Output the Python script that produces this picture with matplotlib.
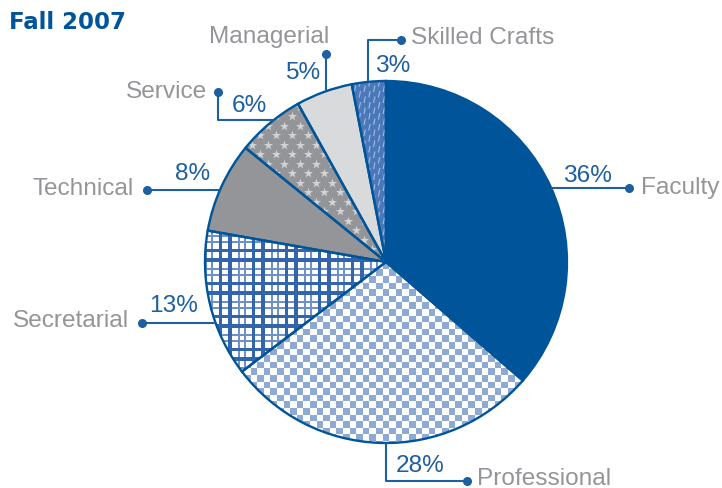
import numpy as np
import matplotlib
matplotlib.use("Agg")
import matplotlib.pyplot as plt
from matplotlib.collections import LineCollection

# ---- data ----
categories = ["Faculty", "Professional", "Secretarial", "Technical", "Service", "Managerial", "Skilled Crafts"]
values = [36, 28, 13, 8, 6, 5, 3]
pct_labels = ["36%", "28%", "13%", "8%", "6%", "5%", "3%"]
title = "Fall 2007"

# ---- style ----
W, H = 722, 489
CX, CY, R = 386, 263, 181
DARK = "#00559A"
PCT = "#1D5FA0"
GRAY_TXT = "#939598"
face = ["#00559A", "#FFFFFF", "#FFFFFF", "#939598", "#939598", "#D9DADC", "#4A78B8"]

fig = plt.figure(figsize=(W / 100, H / 100), dpi=100)
ax = fig.add_axes([0, 0, 1, 1])

wedges, _ = ax.pie(values, colors=face, startangle=270, counterclock=True,
                   center=(CX, CY), radius=R,
                   wedgeprops=dict(edgecolor="none", linewidth=0, zorder=1))

# ---- textures (clipped to wedges) ----
S = 2
yy, xx = np.mgrid[0:H * S, 0:W * S]
px = (xx + 0.5) / S
py = (yy + 0.5) / S

# checkerboard for Professional
cell = 6.6
chk = ((np.floor(px / cell) + np.floor(py / cell)) % 2) == 0
img = np.ones((H * S, W * S, 4))
blue = np.array([0x8E, 0xA9, 0xD2]) / 255
img[chk, :3] = blue
im = ax.imshow(img, extent=(0, W, H, 0), origin="upper", interpolation="nearest", zorder=2)
im.set_clip_path(wedges[1])

# plaid for Secretarial
P = 33.0
def plaid_mask(c):
    m = c % P
    thick = (m < 4.5)
    thin = ((m >= 10) & (m < 12)) | ((m >= 16) & (m < 18))
    med = (m >= 24) & (m < 27)
    return thick | med, thin
tx, sx = plaid_mask(px + 3)
ty, sy = plaid_mask(py + 5)
img2 = np.ones((H * S, W * S, 4))
light = np.array([0x6E, 0x91, 0xC8]) / 255
strong = np.array([0x33, 0x65, 0xAC]) / 255
img2[sx | sy, :3] = light
img2[tx | ty, :3] = strong
im2 = ax.imshow(img2, extent=(0, W, H, 0), origin="upper", interpolation="nearest", zorder=2)
im2.set_clip_path(wedges[2])

# stars for Service
sxs, sys_ = [], []
for i, yv in enumerate(np.arange(60, 260, 9.5)):
    off = 8 if i % 2 else 0
    for xv in np.arange(180, 400, 16.0):
        sxs.append(xv + off)
        sys_.append(yv)
st = ax.scatter(sxs, sys_, marker="*", s=48, color="#D1D3D5", linewidths=0, zorder=2)
st.set_clip_path(wedges[4])

# dashes for Skilled Crafts
segs = []
for j, xv in enumerate(np.arange(340, 400, 4.8)):
    off = 5.5 if j % 2 else 0
    for yv in np.arange(70, 280, 11.0):
        y0 = yv + off
        segs.append([(xv, y0 + 6.5), (xv + 1.3, y0)])
lc = LineCollection(segs, colors="#A3BDE2", linewidths=0.8, zorder=2)
ax.add_collection(lc)
lc.set_clip_path(wedges[6])

# outlines
ax.pie(values, colors=["none"] * len(values), startangle=270, counterclock=True,
       center=(CX, CY), radius=R,
       wedgeprops=dict(edgecolor=DARK, linewidth=1.7, zorder=3, fill=False))

# ---- leader lines ----
def edge_x(y, side):
    return CX + side * np.sqrt(R ** 2 - (y - CY) ** 2)

def edge_y(x, side):
    return CY + side * np.sqrt(R ** 2 - (x - CX) ** 2)

lkw = dict(color=PCT, lw=1.5, zorder=4, solid_capstyle="butt")
dkw = dict(marker="o", ms=5.5, color=PCT, zorder=5, linestyle="none")

# Faculty
ax.plot([edge_x(189, 1), 629], [189, 189], **lkw); ax.plot([629], [189], **dkw)
# Professional
ax.plot([386, 386, 467], [edge_y(386, 1), 482, 482], **lkw); ax.plot([467], [482], **dkw)
# Secretarial
ax.plot([142, edge_x(324, -1)], [324, 324], **lkw); ax.plot([142], [324], **dkw)
# Technical
ax.plot([147, edge_x(191, -1)], [191, 191], **lkw); ax.plot([147], [191], **dkw)
# Service
ax.plot([218, 218, edge_x(121, -1)], [93, 121, 121], **lkw); ax.plot([218], [93], **dkw)
# Managerial
ax.plot([326, 326], [55, edge_y(326, -1)], **lkw); ax.plot([326], [55], **dkw)
# Skilled Crafts
ax.plot([368, 368, 401], [edge_y(368, -1), 41, 41], **lkw); ax.plot([401], [41], **dkw)

# ---- text ----
fam = ["Liberation Sans", "DejaVu Sans"]
FS = 17.6
name_pos = [(641, 194, "left"), (477, 485, "left"), (129, 327, "right"), (134, 195, "right"),
            (207, 98, "right"), (329, 43, "right"), (411, 44, "left")]
pct_pos = [(563, 182), (396, 472), (149, 312), (175, 180), (232, 112), (285, 79), (375, 72)]
for cat, (x, y, ha) in zip(categories, name_pos):
    ax.text(x, y, cat, ha=ha, va="baseline", fontsize=FS, color=GRAY_TXT, family=fam)
for lab, (x, y) in zip(pct_labels, pct_pos):
    ax.text(x, y, lab, ha="left", va="baseline", fontsize=FS, color=PCT, family=fam)

ax.text(9, 29, title, ha="left", va="baseline", fontsize=16.5, fontweight="bold",
        color=DARK, family=["DejaVu Sans"])

ax.set_xlim(0, W)
ax.set_ylim(H, 0)
ax.set_aspect("auto")
ax.axis("off")
fig.savefig("out.png", dpi=100)
